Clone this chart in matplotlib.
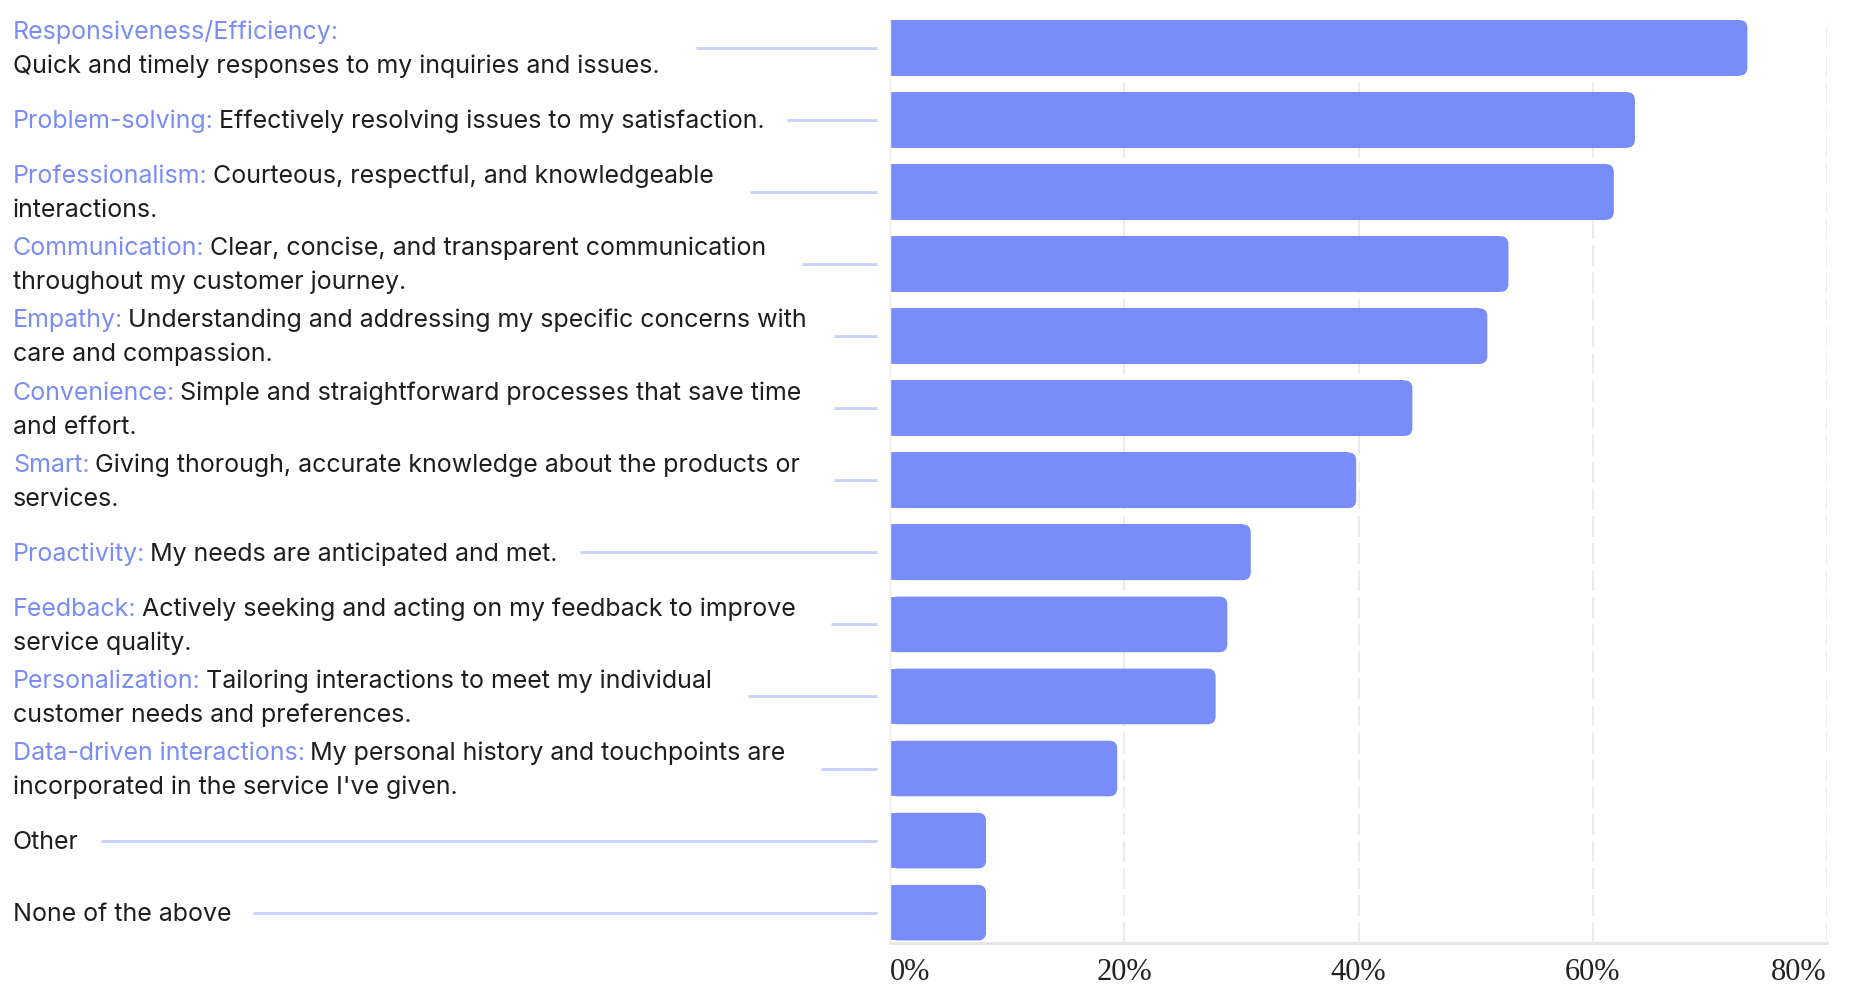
import numpy as np
import matplotlib.pyplot as plt
from matplotlib.patches import FancyBboxPatch
from matplotlib.lines import Line2D
from matplotlib.transforms import blended_transform_factory, offset_copy

# Survey answers, top to bottom
categories = [
    "Responsiveness/Efficiency:",
    "Problem-solving:",
    "Professionalism:",
    "Communication:",
    "Empathy:",
    "Convenience:",
    "Smart:",
    "Proactivity:",
    "Feedback:",
    "Personalization:",
    "Data-driven interactions:",
    "",
    "",
]
descriptions = [
    "\nQuick and timely responses to my inquiries and issues.",
    "Effectively resolving issues to my satisfaction.",
    "Courteous, respectful, and knowledgeable\ninteractions.",
    "Clear, concise, and transparent communication\nthroughout my customer journey.",
    "Understanding and addressing my specific concerns with\ncare and compassion.",
    "Simple and straightforward processes that save time\nand effort.",
    "Giving thorough, accurate knowledge about the products or\nservices.",
    "My needs are anticipated and met.",
    "Actively seeking and acting on my feedback to improve\nservice quality.",
    "Tailoring interactions to meet my individual\ncustomer needs and preferences.",
    "My personal history and touchpoints are\nincorporated in the service I've given.",
    "Other",
    "None of the above",
]
shares = np.array([73.2, 63.6, 61.8, 52.8, 51.0, 44.6, 39.8, 30.8, 28.8, 27.8, 19.4, 8.2, 8.2])
ticks = [0, 20, 40, 60, 80]
tick_labels = ["0%", "20%", "40%", "60%", "80%"]

bar_color = "#788CFA"
cat_color = "#7A8CF6"
text_color = "#1E1E1E"
leader_color = "#C9D1FB"
grid_color = "#ECECEC"

W, H = 1855, 984
fig = plt.figure(figsize=(W / 100, H / 100), dpi=100)
ax_top, ax_bot = 20, 943
ax = fig.add_axes([890 / W, 1 - ax_bot / H, 937 / W, (ax_bot - ax_top) / H])

n = len(shares)
ypos = np.arange(n)
bar_h = 0.772
ax.set_xlim(0, 80)
ax.set_ylim(n - 1 + bar_h / 2 + 0.035, -bar_h / 2)

# bars: square on the left, rounded on the right
px_x = 937 / 80
px_y = (ax_bot - ax_top) / (n - 1 + bar_h + 0.035)
r = 8 / px_x
ax.barh(ypos, shares - r, height=bar_h, color=bar_color, zorder=2)
for yi, v in zip(ypos, shares):
    ax.add_patch(FancyBboxPatch((0, yi - bar_h / 2), v, bar_h,
                                boxstyle=f"round,pad=0,rounding_size={r}",
                                mutation_aspect=px_x / px_y,
                                fc=bar_color, ec="none", zorder=2))

ax.set_xticks(ticks)
ax.set_xticklabels(tick_labels, family="Liberation Serif", fontsize=22, color="#222222")
xl = ax.get_xticklabels()
xl[0].set_ha("left")
xl[-1].set_ha("right")
ax.set_yticks([])
ax.tick_params(axis="x", length=0, pad=11)
ax.xaxis.grid(True, color=grid_color, lw=1.5, linestyle=(0, (10, 3)))
ax.set_axisbelow(True)
for s in ["top", "right"]:
    ax.spines[s].set_visible(False)
ax.spines["left"].set_color("#EEEEEE")
ax.spines["left"].set_linewidth(1)
ax.spines["bottom"].set_color("#E6E6E6")
ax.spines["bottom"].set_linewidth(2)

# labels on the left, in figure x / data y
tr = blended_transform_factory(fig.transFigure, ax.transData)
fig.canvas.draw()
renderer = fig.canvas.get_renderer()
fs = 18
half_gap = 12.24
base = -6.0
for yi, cat, desc in zip(ypos, categories, descriptions):
    lines = desc.split("\n")
    offs = [base] if len(lines) == 1 else [base + half_gap, base - half_gap]
    rights = []
    for k, line in enumerate(lines):
        t_off = offset_copy(tr, fig=fig, y=offs[k], units="points")
        x0 = 13 / W
        if k == 0 and cat:
            c = fig.text(x0, yi, cat, transform=t_off, color=cat_color, fontsize=fs,
                         family="Inter", va="baseline", ha="left")
            bb = c.get_window_extent(renderer)
            rights.append(bb.x1)
            x0 = (bb.x1 + 5) / W
        if line:
            t = fig.text(x0, yi, line, transform=t_off, color=text_color, fontsize=fs,
                         family="Inter", va="baseline", ha="left")
            rights.append(t.get_window_extent(renderer).x1)
    gap = 22 if len(lines) == 1 else 36
    start = min(max(rights) + gap, 834)
    fig.add_artist(Line2D([start / W, 877 / W], [yi, yi], transform=tr,
                          color=leader_color, lw=2.1, solid_capstyle="butt"))

fig.savefig("out.png", dpi=100, facecolor="white")
